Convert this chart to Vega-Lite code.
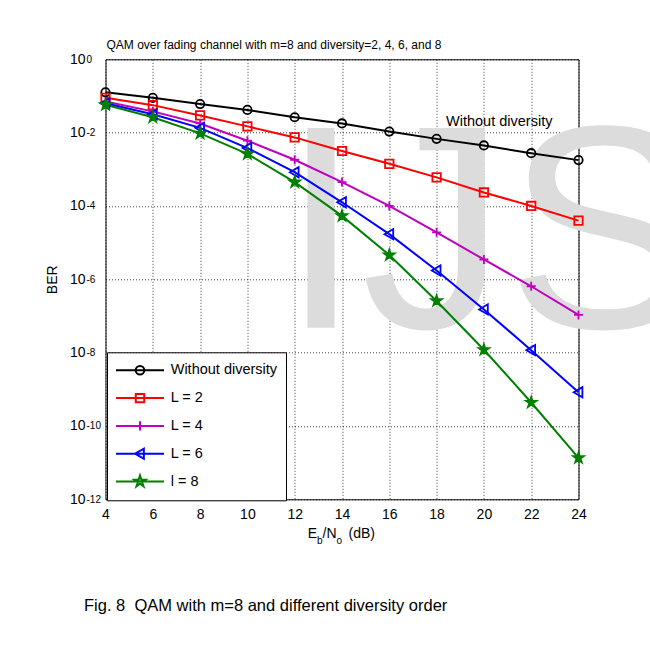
{
  "$schema": "https://vega.github.io/schema/vega-lite/v6.json",
  "width": 473,
  "height": 440,
  "autosize": "none",
  "padding": {"left": 105.5, "top": 59.3, "right": 71.5, "bottom": 147.7},
  "background": "white",
  "title": {
    "text": "QAM over fading channel with m=8 and diversity=2, 4, 6, and 8",
    "anchor": "start",
    "frame": "group",
    "font": "Liberation Sans",
    "fontSize": 12,
    "fontWeight": "normal",
    "color": "#000",
    "baseline": "alphabetic",
    "offset": -9,
    "dx": 1
  },
  "config": {
    "font": "Liberation Sans",
    "view": {"stroke": "#000", "strokeWidth": 1},
    "axis": {
      "gridColor": "#000",
      "gridDash": [1, 2],
      "gridOpacity": 0.75,
      "gridWidth": 1,
      "ticks": false,
      "domain": false,
      "labelColor": "#000",
      "labelFont": "Liberation Sans",
      "labelFontSize": 14,
      "titleColor": "#000",
      "titleFont": "Liberation Sans",
      "titleFontSize": 14,
      "titleFontWeight": "normal",
      "labelFlush": false,
      "labelOverlap": false,
      "zindex": 1
    }
  },
  "datasets": {
    "ber": [
      {"ebno": 4, "ber": 0.126, "series": "Without diversity"},
      {"ebno": 6, "ber": 0.0891, "series": "Without diversity"},
      {"ebno": 8, "ber": 0.0603, "series": "Without diversity"},
      {"ebno": 10, "ber": 0.0417, "series": "Without diversity"},
      {"ebno": 12, "ber": 0.0263, "series": "Without diversity"},
      {"ebno": 14, "ber": 0.0178, "series": "Without diversity"},
      {"ebno": 16, "ber": 0.0107, "series": "Without diversity"},
      {"ebno": 18, "ber": 0.00676, "series": "Without diversity"},
      {"ebno": 20, "ber": 0.00447, "series": "Without diversity"},
      {"ebno": 22, "ber": 0.00275, "series": "Without diversity"},
      {"ebno": 24, "ber": 0.00178, "series": "Without diversity"},
      {"ebno": 4, "ber": 0.0891, "series": "L = 2"},
      {"ebno": 6, "ber": 0.0562, "series": "L = 2"},
      {"ebno": 8, "ber": 0.0295, "series": "L = 2"},
      {"ebno": 10, "ber": 0.0148, "series": "L = 2"},
      {"ebno": 12, "ber": 0.00741, "series": "L = 2"},
      {"ebno": 14, "ber": 0.00316, "series": "L = 2"},
      {"ebno": 16, "ber": 0.00141, "series": "L = 2"},
      {"ebno": 18, "ber": 0.000603, "series": "L = 2"},
      {"ebno": 20, "ber": 0.000234, "series": "L = 2"},
      {"ebno": 22, "ber": 0.0001, "series": "L = 2"},
      {"ebno": 24, "ber": 0.0000398, "series": "L = 2"},
      {"ebno": 4, "ber": 0.0708, "series": "L = 4"},
      {"ebno": 6, "ber": 0.038, "series": "L = 4"},
      {"ebno": 8, "ber": 0.0178, "series": "L = 4"},
      {"ebno": 10, "ber": 0.00603, "series": "L = 4"},
      {"ebno": 12, "ber": 0.00182, "series": "L = 4"},
      {"ebno": 14, "ber": 0.000447, "series": "L = 4"},
      {"ebno": 16, "ber": 0.0001, "series": "L = 4"},
      {"ebno": 18, "ber": 0.0000191, "series": "L = 4"},
      {"ebno": 20, "ber": 0.00000347, "series": "L = 4"},
      {"ebno": 22, "ber": 6.46e-7, "series": "L = 4"},
      {"ebno": 24, "ber": 1.07e-7, "series": "L = 4"},
      {"ebno": 4, "ber": 0.0631, "series": "L = 6"},
      {"ebno": 6, "ber": 0.0316, "series": "L = 6"},
      {"ebno": 8, "ber": 0.0135, "series": "L = 6"},
      {"ebno": 10, "ber": 0.0038, "series": "L = 6"},
      {"ebno": 12, "ber": 0.000832, "series": "L = 6"},
      {"ebno": 14, "ber": 0.000126, "series": "L = 6"},
      {"ebno": 16, "ber": 0.000017, "series": "L = 6"},
      {"ebno": 18, "ber": 1.74e-6, "series": "L = 6"},
      {"ebno": 20, "ber": 1.51e-7, "series": "L = 6"},
      {"ebno": 22, "ber": 1.17e-8, "series": "L = 6"},
      {"ebno": 24, "ber": 8.32e-10, "series": "L = 6"},
      {"ebno": 4, "ber": 0.0575, "series": "l = 8"},
      {"ebno": 6, "ber": 0.0263, "series": "l = 8"},
      {"ebno": 8, "ber": 0.00955, "series": "l = 8"},
      {"ebno": 10, "ber": 0.00263, "series": "l = 8"},
      {"ebno": 12, "ber": 0.000447, "series": "l = 8"},
      {"ebno": 14, "ber": 0.0000537, "series": "l = 8"},
      {"ebno": 16, "ber": 4.57e-6, "series": "l = 8"},
      {"ebno": 18, "ber": 2.57e-7, "series": "l = 8"},
      {"ebno": 20, "ber": 1.2e-8, "series": "l = 8"},
      {"ebno": 22, "ber": 4.37e-10, "series": "l = 8"},
      {"ebno": 24, "ber": 1.35e-11, "series": "l = 8"}
    ]
  },
  "resolve": {"axis": {"y": "independent"}},
  "layer": [
    {
      "data": {"values": [{}]},
      "mark": {"type": "text", "text": "IJSER", "font": "Liberation Sans", "fontSize": 290, "color": "#dcdcdc", "align": "left", "baseline": "alphabetic", "dx": -14, "dy": -25, "clip": false},
      "encoding": {
        "x": {"datum": 12, "type": "quantitative"},
        "y": {"datum": 1e-8, "type": "quantitative", "axis": null}
      }
    },
    {
      "data": {"name": "ber"},
      "mark": {"type": "line", "strokeWidth": 2},
      "encoding": {
        "x": {
          "field": "ebno", "type": "quantitative",
          "scale": {"domain": [4, 24], "nice": false, "zero": false},
          "axis": {"orient": "bottom", "values": [4, 6, 8, 10, 12, 14, 16, 18, 20, 22, 24], "labelExpr": "format(datum.value, 'd')", "title": null, "labels": true, "labelColor": "#000", "labelPadding": 8, "grid": true}
        },
        "y": {
          "field": "ber", "type": "quantitative",
          "scale": {"type": "log", "domain": [1e-12, 1], "nice": false},
          "axis": {"orient": "left", "values": [1, 0.01, 0.0001, 1e-6, 1e-8, 1e-10, 1e-12], "labelExpr": "'10'", "labelAlign": "right", "labelBaseline": "middle", "labelPadding": 20.5, "title": "BER", "titlePadding": 10, "grid": true}
        },
        "stroke": {
          "field": "series", "type": "nominal",
          "scale": {"domain": ["Without diversity", "L = 2", "L = 4", "L = 6", "l = 8"], "range": ["#000000", "#FF0000", "#BF00BF", "#0000FF", "#008000"]},
          "legend": {
            "title": null,
            "orient": "none",
            "legendX": 1.5,
            "legendY": 293,
            "direction": "vertical",
            "fillColor": "white",
            "strokeColor": "black",
            "padding": 8,
            "rowPadding": 7.8,
            "clipHeight": 20,
            "symbolSize": 2304,
            "symbolStrokeWidth": 2,
            "symbolOpacity": 1,
            "labelFontSize": 14.5,
            "labelFont": "Liberation Sans",
            "labelColor": "#000",
            "labelOffset": 5.7,
            "zindex": 2
          }
        }
      }
    },
    {
      "data": {"name": "ber"},
      "mark": {"type": "point", "opacity": 0},
      "encoding": {
        "x": {"field": "ebno", "type": "quantitative"},
        "y": {"field": "ber", "type": "quantitative", "axis": null},
        "stroke": {"field": "series", "type": "nominal"},
        "shape": {
          "field": "series", "type": "nominal",
          "scale": {"domain": ["Without diversity", "L = 2", "L = 4", "L = 6", "l = 8"], "range": [
            "M-1,0L1,0M0.18,0A0.18,0.18,0,1,1,-0.18,0A0.18,0.18,0,1,1,0.18,0Z",
            "M-1,0L1,0M-0.175,-0.175L0.175,-0.175L0.175,0.175L-0.175,0.175Z",
            "M-1,0L1,0M0,-0.19L0,0.19",
            "M-1,0L1,0M-0.2,0L0.16,-0.21L0.16,0.21Z",
            "M-1,0L1,0M0,-0.25L0.056,-0.077L0.238,-0.077L0.091,0.03L0.147,0.202L0,0.096L-0.147,0.202L-0.091,0.03L-0.238,-0.077L-0.056,-0.077Z"
          ]},
          "legend": {
            "title": null,
            "orient": "none",
            "legendX": 1.5,
            "legendY": 293,
            "direction": "vertical",
            "fillColor": "white",
            "strokeColor": "black",
            "padding": 8,
            "rowPadding": 7.8,
            "clipHeight": 20,
            "symbolSize": 2304,
            "symbolStrokeWidth": 2,
            "symbolOpacity": 1,
            "labelFontSize": 14.5,
            "labelFont": "Liberation Sans",
            "labelColor": "#000",
            "labelOffset": 5.7,
            "zindex": 2
          }
        },
        "fill": {
          "field": "series", "type": "nominal",
          "scale": {"domain": ["Without diversity", "L = 2", "L = 4", "L = 6", "l = 8"], "range": ["rgba(0,0,0,0)", "rgba(0,0,0,0)", "rgba(0,0,0,0)", "rgba(0,0,0,0)", "#008000"]}
        }
      }
    },
    {
      "data": {"name": "ber"},
      "transform": [{"filter": "datum.series === 'Without diversity'"}],
      "mark": {"type": "point", "shape": "M0.7,0A0.7,0.7,0,1,1,-0.7,0A0.7,0.7,0,1,1,0.7,0Z", "size": 144, "strokeWidth": 1.8, "opacity": 1, "filled": false},
      "encoding": {
        "x": {"field": "ebno", "type": "quantitative"},
        "y": {
          "field": "ber", "type": "quantitative",
          "axis": {"orient": "left", "values": [1, 0.01, 0.0001, 1e-6, 1e-8, 1e-10, 1e-12], "labelExpr": "'' + round(log(datum.value)/LN10)", "labelAlign": "left", "labelBaseline": "middle", "labelPadding": 19.5, "labelFontSize": 10, "labelDy": -7, "title": null, "grid": false}
        },
        "stroke": {"field": "series", "type": "nominal"}
      }
    },
    {
      "data": {"name": "ber"},
      "transform": [{"filter": "datum.series === 'L = 2'"}],
      "mark": {"type": "point", "shape": "M-0.7,-0.7L0.7,-0.7L0.7,0.7L-0.7,0.7Z", "size": 144, "strokeWidth": 1.8, "opacity": 1, "filled": false},
      "encoding": {
        "x": {"field": "ebno", "type": "quantitative"},
        "y": {"field": "ber", "type": "quantitative", "axis": null},
        "stroke": {"field": "series", "type": "nominal"}
      }
    },
    {
      "data": {"name": "ber"},
      "transform": [{"filter": "datum.series === 'L = 4'"}],
      "mark": {"type": "point", "shape": "M-0.75,0L0.75,0M0,-0.75L0,0.75", "size": 144, "strokeWidth": 1.8, "opacity": 1, "filled": false},
      "encoding": {
        "x": {"field": "ebno", "type": "quantitative"},
        "y": {"field": "ber", "type": "quantitative", "axis": null},
        "stroke": {"field": "series", "type": "nominal"}
      }
    },
    {
      "data": {"name": "ber"},
      "transform": [{"filter": "datum.series === 'L = 6'"}],
      "mark": {"type": "point", "shape": "M-0.8,0L0.65,-0.85L0.65,0.85Z", "size": 144, "strokeWidth": 1.8, "opacity": 1, "filled": false},
      "encoding": {
        "x": {"field": "ebno", "type": "quantitative"},
        "y": {"field": "ber", "type": "quantitative", "axis": null},
        "stroke": {"field": "series", "type": "nominal"}
      }
    },
    {
      "data": {"name": "ber"},
      "transform": [{"filter": "datum.series === 'l = 8'"}],
      "mark": {"type": "point", "shape": "M0,-1L0.2245,-0.309L0.951,-0.309L0.363,0.118L0.588,0.809L0,0.382L-0.588,0.809L-0.363,0.118L-0.951,-0.309L-0.2245,-0.309Z", "size": 144, "strokeWidth": 1.5, "opacity": 1, "filled": true, "fill": "#008000"},
      "encoding": {
        "x": {"field": "ebno", "type": "quantitative"},
        "y": {"field": "ber", "type": "quantitative", "axis": null},
        "stroke": {"field": "series", "type": "nominal"}
      }
    },
    {
      "data": {"values": [{}]},
      "mark": {"type": "text", "text": "Without diversity", "font": "Liberation Sans", "fontSize": 14.5, "color": "#000", "align": "left", "baseline": "middle"},
      "encoding": {
        "x": {"datum": 18.4, "type": "quantitative"},
        "y": {"datum": 0.02, "type": "quantitative", "axis": null}
      }
    },
    {
      "data": {"values": [{}]},
      "mark": {"type": "text", "text": "Fig. 8\u00a0 QAM with m=8 and different diversity order", "font": "Liberation Sans", "fontSize": 16.5, "color": "#000", "align": "left", "baseline": "alphabetic", "dx": -21.5, "dy": 112, "clip": false},
      "encoding": {
        "x": {"datum": 4, "type": "quantitative"},
        "y": {"datum": 1e-12, "type": "quantitative", "axis": null}
      }
    },
    {
      "data": {"values": [{}]},
      "mark": {"type": "text", "text": "E", "font": "Liberation Sans", "fontSize": 14, "color": "#000", "align": "left", "baseline": "alphabetic", "dx": -34.3, "dy": 39},
      "encoding": {
        "x": {"datum": 14, "type": "quantitative"},
        "y": {"datum": 1e-12, "type": "quantitative", "axis": null}
      }
    },
    {
      "data": {"values": [{}]},
      "mark": {"type": "text", "text": "b", "font": "Liberation Sans", "fontSize": 10, "color": "#000", "align": "left", "baseline": "alphabetic", "dx": -25, "dy": 45},
      "encoding": {
        "x": {"datum": 14, "type": "quantitative"},
        "y": {"datum": 1e-12, "type": "quantitative", "axis": null}
      }
    },
    {
      "data": {"values": [{}]},
      "mark": {"type": "text", "text": "/N", "font": "Liberation Sans", "fontSize": 14, "color": "#000", "align": "left", "baseline": "alphabetic", "dx": -19.4, "dy": 39},
      "encoding": {
        "x": {"datum": 14, "type": "quantitative"},
        "y": {"datum": 1e-12, "type": "quantitative", "axis": null}
      }
    },
    {
      "data": {"values": [{}]},
      "mark": {"type": "text", "text": "o", "font": "Liberation Sans", "fontSize": 10, "color": "#000", "align": "left", "baseline": "alphabetic", "dx": -5.4, "dy": 45},
      "encoding": {
        "x": {"datum": 14, "type": "quantitative"},
        "y": {"datum": 1e-12, "type": "quantitative", "axis": null}
      }
    },
    {
      "data": {"values": [{}]},
      "mark": {"type": "text", "text": "(dB)", "font": "Liberation Sans", "fontSize": 14, "color": "#000", "align": "left", "baseline": "alphabetic", "dx": 6.5, "dy": 39},
      "encoding": {
        "x": {"datum": 14, "type": "quantitative"},
        "y": {"datum": 1e-12, "type": "quantitative", "axis": null}
      }
    }
  ]
}
